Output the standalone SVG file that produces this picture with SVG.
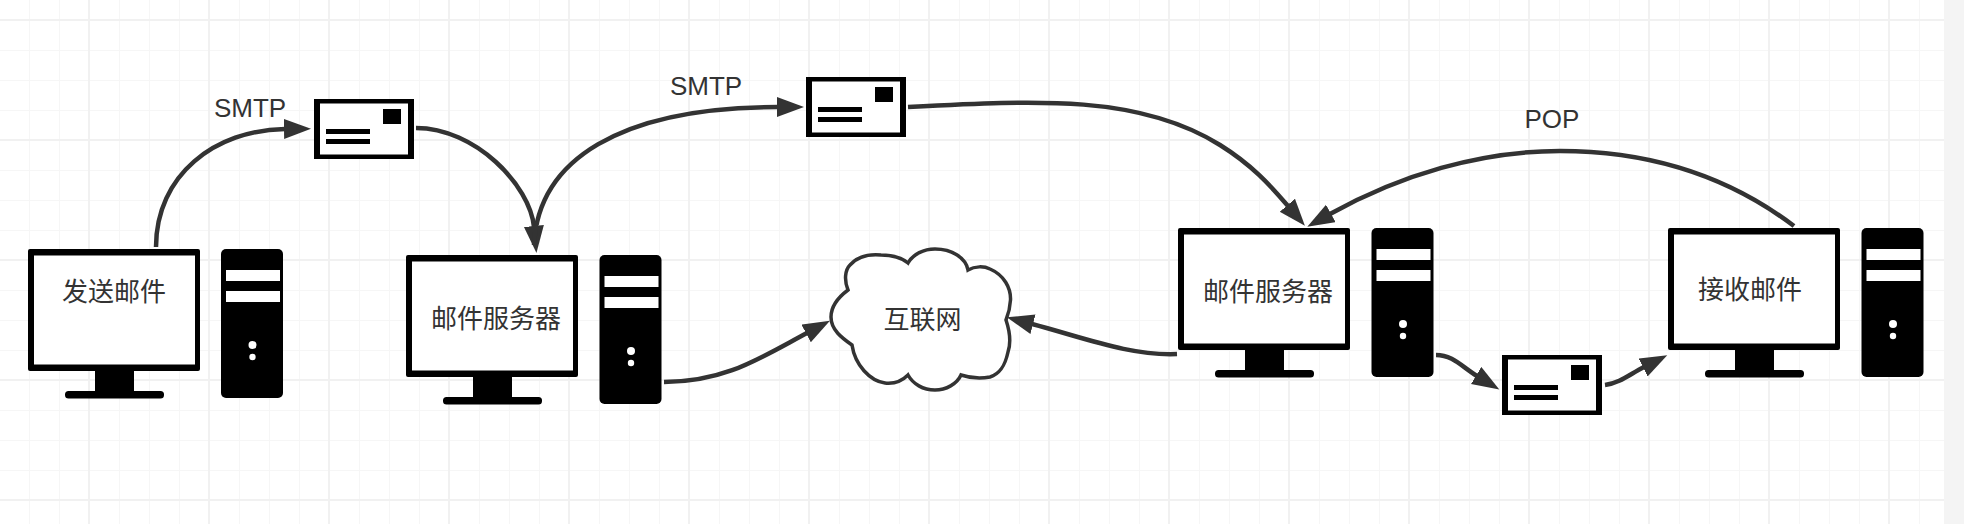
<svg xmlns="http://www.w3.org/2000/svg" width="1964" height="524" viewBox="0 0 1964 524">
<style>
text{font-family:"Liberation Sans","Noto Sans CJK SC",sans-serif;font-size:26px;fill:#333;text-anchor:middle}
.c{fill:none;stroke:#333;stroke-width:4.5;marker-end:url(#arrow)}
.k{fill:#000}
.w{fill:#fff}
</style>
<defs>
<pattern id="minor" patternUnits="userSpaceOnUse" x="29" y="20" width="30" height="30"><path d="M0.5 0V30M0 0.5H30" fill="none" stroke="#f6f6f6" stroke-width="1"/></pattern>
<pattern id="major" patternUnits="userSpaceOnUse" x="88" y="19" width="120" height="120"><path d="M1 0V120M0 1H120" fill="none" stroke="#f1f1f1" stroke-width="2"/></pattern>
<marker id="arrow" markerUnits="userSpaceOnUse" markerWidth="30" markerHeight="22" refX="1" refY="10" orient="auto"><path d="M0 0L27 10L0 20z" fill="#333"/></marker>
<g id="monitor">
<rect class="k" x="28" y="249" width="172" height="122" rx="2"/>
<rect class="w" x="34" y="255.500" width="161" height="109"/>
<rect class="k" x="95" y="370" width="39" height="23"/>
<rect class="k" x="65" y="391" width="99" height="7.500" rx="3.500"/>
</g>
<g id="tower">
<rect class="k" x="221" y="249" width="62" height="149" rx="5"/>
<rect class="w" x="226" y="270" width="54" height="11"/>
<rect class="w" x="226" y="291" width="54" height="11"/>
<circle class="w" cx="252.500" cy="345" r="4"/>
<circle class="w" cx="252.500" cy="357" r="3.200"/>
</g>
<g id="envelope">
<rect class="k" x="314" y="99" width="100" height="60"/>
<rect class="w" x="320" y="103.500" width="88" height="51"/>
<rect class="k" x="383" y="109" width="18" height="15"/>
<rect class="k" x="326" y="129" width="44" height="5"/>
<rect class="k" x="326" y="139" width="44" height="5"/>
</g>
</defs>
<rect width="1964" height="524" fill="#fff"/>
<rect width="1944" height="524" fill="url(#minor)"/>
<rect width="1944" height="524" fill="url(#major)"/>
<rect x="1944" width="20" height="524" fill="#f4f4f4"/>
<g id="connectors">
<path class="c" d="M156 247C156 175 215 130 285 129"/>
<path class="c" d="M416 128C475 128 530 185 534 227"/>
<path class="c" d="M534 245C538 160 620 107 778 107"/>
<path class="c" d="M908 107C1040 100 1140 95 1220 145C1252 165 1270 185 1288 206"/>
<path class="c" d="M1794 226C1720 170 1640 151 1560 151C1480 151 1400 175 1330 214"/>
<path class="c" d="M664 382C725 382 760 358 807 333"/>
<path class="c" d="M1177 354C1130 356 1085 338 1032 324"/>
<path class="c" d="M1436 355C1453 355 1462 367 1477 376"/>
<path class="c" d="M1605 385C1620 383 1630 374 1644 367"/>
</g>
<g id="sender"><use href="#monitor"/><use href="#tower"/><text x="114" y="301">发送邮件</text></g>
<g id="server-a"><use href="#monitor" x="378" y="6"/><use href="#tower" x="378.500" y="6"/><text x="496" y="328">邮件服务器</text></g>
<g id="server-b"><use href="#monitor" x="1150" y="-21"/><use href="#tower" x="1150.500" y="-21"/><text x="1268" y="301">邮件服务器</text></g>
<g id="receiver"><use href="#monitor" x="1640" y="-21"/><use href="#tower" x="1640.500" y="-21"/><text x="1750" y="299">接收邮件</text></g>
<g id="mail-1"><use href="#envelope"/></g>
<g id="mail-2"><use href="#envelope" x="492" y="-22"/></g>
<g id="mail-3"><use href="#envelope" x="1188" y="256"/></g>
<g id="internet">
<path d="M908 263C913 254 924 249 935 249C952 249 966 258 968 270C975 266 984 266 990 269C1004 275 1011 288 1010.500 300C1010 310 1008 315 1006 320C1010 332 1011 343 1008 352C1005 366 1000 374 990 377C980 379 970 378 961 375C957 384 946 390 935 390C923 390 913 384 908 375C902 381 894 384 885 383C870 381 855 365 852 345C842 338 831 330 831 317C831 305 840 296 848 290C844 280 845 270 850 265C858 256 870 254 881 255C892 255 902 258 908 263z" fill="#fff" stroke="#333" stroke-width="3.500"/>
<text x="922.500" y="329">互联网</text>
</g>
<g id="labels">
<text x="250" y="117">SMTP</text>
<text x="706" y="95">SMTP</text>
<text x="1552" y="128">POP</text>
</g>
</svg>
